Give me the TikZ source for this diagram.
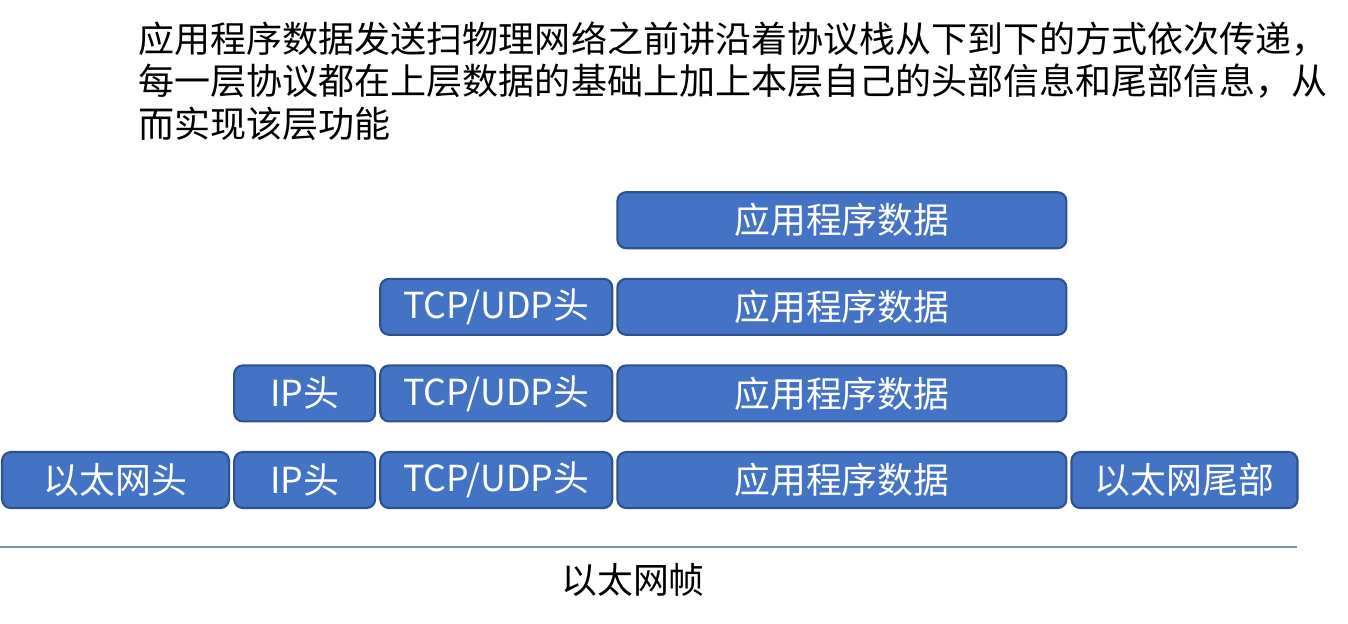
\documentclass[tikz,border=0pt]{standalone}
\usepackage{fontspec}
\setmainfont{Noto Sans CJK SC}
\usetikzlibrary{positioning}
\definecolor{layerblue}{HTML}{4472C4}
\definecolor{layeredge}{HTML}{2F528F}
\definecolor{ruleline}{HTML}{7F8FA8}

\begin{document}
\begin{tikzpicture}[
        node distance=0.03cm,
        layer/.style={rectangle, draw=layeredge, fill=layerblue, line width=0.6pt, rounded corners=2.5pt, minimum height=0.56cm, inner sep=0pt, text=white, font=\fontsize{10.2pt}{12pt}\selectfont},
        rule/.style={draw=ruleline, line width=0.5pt}
    ]
        \useasboundingbox (0,0) rectangle (13.48,-6.24);

        \node [anchor=north west, align=left, inner sep=0pt, font=\fontsize{10.25pt}{12.1pt}\selectfont] (desc) at (1.38,-0.21)
            {应用程序数据发送扫物理网络之前讲沿着协议栈从下到下的方式依次传递，\\每一层协议都在上层数据的基础上加上本层自己的头部信息和尾部信息，从\\而实现该层功能};

        % bottom row: the whole ethernet frame
        \node [layer, minimum width=2.27cm, anchor=north west] (eth) at (0.01,-4.51) {以太网头};
        \node [layer, minimum width=1.41cm, right=of eth] (ip4) {IP头};
        \node [layer, minimum width=2.32cm, right=of ip4] (tcp4) {TCP/UDP头};
        \node [layer, minimum width=4.49cm, right=of tcp4] (app4) {应用程序数据};
        \node [layer, minimum width=2.26cm, right=of app4] (tail) {以太网尾部};

        % upper rows
        \node [layer, minimum width=1.41cm, above=0.285cm of ip4] (ip3) {IP头};
        \node [layer, minimum width=2.32cm, above=0.285cm of tcp4] (tcp3) {TCP/UDP头};
        \node [layer, minimum width=4.49cm, above=0.285cm of app4] (app3) {应用程序数据};
        \node [layer, minimum width=2.32cm, above=0.285cm of tcp3] (tcp2) {TCP/UDP头};
        \node [layer, minimum width=4.49cm, above=0.285cm of app3] (app2) {应用程序数据};
        \node [layer, minimum width=4.49cm, above=0.285cm of app2] (app1) {应用程序数据};

        % frame rule and caption
        \coordinate (rulel) at (0,-5.47);
        \coordinate (ruler) at (12.97,-5.47);
        \path [rule] (rulel) -- (ruler);
        \node [font=\fontsize{10.2pt}{12pt}\selectfont] (frame) at (6.33,-5.80) {以太网帧};
    \end{tikzpicture}
\end{document}
